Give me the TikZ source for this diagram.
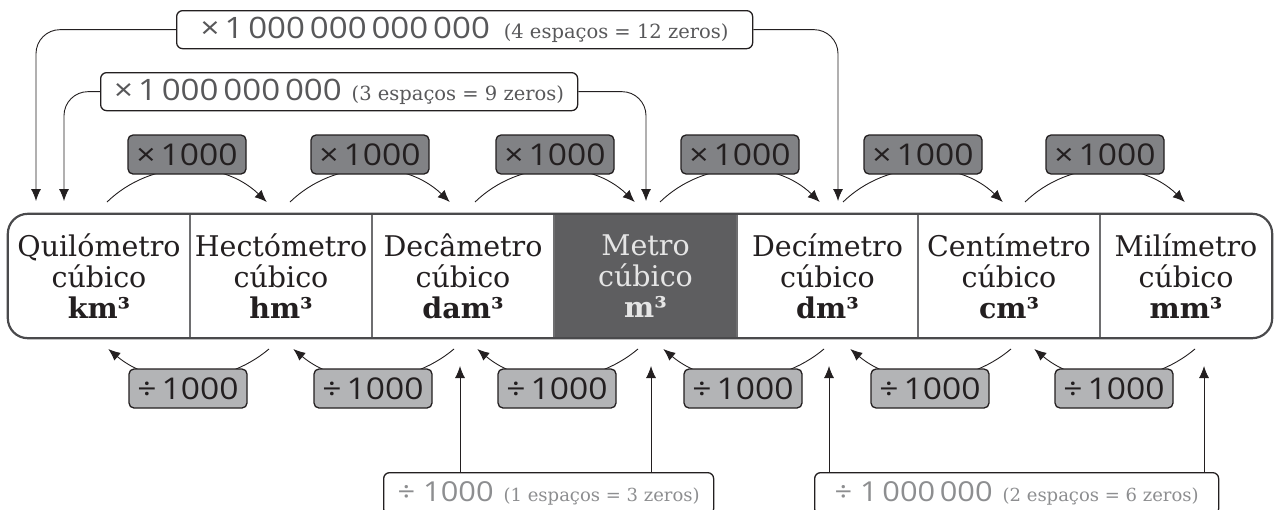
\documentclass[tikz,border=0pt]{standalone}
\usepackage{fontspec}
\setmainfont{DejaVu Serif}
\newfontfamily\numfont[FakeStretch=1.12]{Open Sans}
\usetikzlibrary{arrows.meta}

\definecolor{boxdark}{HTML}{818285}
\definecolor{boxlight}{HTML}{B3B4B6}
\definecolor{metro}{HTML}{5E5E60}
\definecolor{txtdark}{HTML}{58585A}
\definecolor{txtlight}{HTML}{8D8E90}
\definecolor{ink}{HTML}{231F20}
\definecolor{rim}{HTML}{4A4A4C}

\tikzset{
  mulbox/.style={draw=ink, line width=1.3pt, fill=boxdark, rounded corners=5pt,
    minimum width=118pt, minimum height=39pt, inner sep=0pt, text=ink,
    font=\numfont\fontsize{30}{30}\selectfont},
  divbox/.style={mulbox, fill=boxlight},
  bigbox/.style={draw=ink, line width=1.3pt, fill=white, rounded corners=6pt,
    minimum height=38pt, inner sep=0pt, anchor=north west},
  cell/.style={minimum height=124pt, inner sep=0pt, align=center, text=ink,
    font=\fontsize{28.5}{31}\selectfont},
  conn/.style={draw=ink, line width=0.9pt, -{Latex[length=12pt,width=10pt]}},
}
\newcommand{\bignum}{\numfont\fontsize{29.5}{29.5}\selectfont}
\newcommand{\lownum}{\numfont\fontsize{27.5}{27.5}\selectfont}
\newcommand{\note}{\fontsize{19.5}{19.5}\selectfont}
\newcommand{\lownote}{\fontsize{18}{18}\selectfont}

\begin{document}
\begin{tikzpicture}[x=1pt, y=1pt]
  \useasboundingbox (0,0) rectangle (1274,-509);

  % the units
  \node[cell, minimum width=182pt] (km) at (99,-276) {Quilómetro\\cúbico\\\textbf{km³}};
  \node[cell, minimum width=182pt] (hm) at (281,-276) {Hectómetro\\cúbico\\\textbf{hm³}};
  \node[cell, minimum width=182pt] (dam) at (463,-276) {Decâmetro\\cúbico\\\textbf{dam³}};
  \node[cell, minimum width=183pt, fill=metro, text=white!90!black] (m) at (645.5,-276) {Metro\\cúbico\\\textbf{m³}};
  \node[cell, minimum width=181pt] (dm) at (827.5,-276) {Decímetro\\cúbico\\\textbf{dm³}};
  \node[cell, minimum width=182pt] (cm) at (1009,-276) {Centímetro\\cúbico\\\textbf{cm³}};
  \node[cell, minimum width=172pt] (mm) at (1186,-276) {Milímetro\\cúbico\\\textbf{mm³}};

  \foreach \u in {km, hm, dam, m, dm, cm}
    \draw[rim!80, line width=1.5pt] (\u.north east) -- (\u.south east);
  \draw[rim, line width=2.2pt, rounded corners=20pt] (km.north west) rectangle (mm.south east);

  % x 1000 steps
  \foreach \x [count=\i] in {187,370,555,740,923,1105} {
    \coordinate (ua\i) at (\x-80,-202);
    \draw[conn] (ua\i) arc[start angle=134, end angle=46, radius=115];
    \node[mulbox] (mul\i) at (\x,-154.5) {×\,1000};
  }

  % : 1000 steps
  \foreach \x [count=\i] in {188,373,557,743,930,1114} {
    \coordinate (da\i) at (\x+81,-349);
    \draw[conn] (da\i) arc[start angle=-50, end angle=-130, radius=125];
    \node[divbox] (div\i) at (\x,-388.5) {÷\,1000};
  }

  % long jumps on top
  \node[bigbox, minimum width=576pt, text=txtdark] (tera) at (176,-10)
    {{\bignum ×\,1\,000\,000\,000\,000}\hspace{14pt}{\note(4 espaços = 12 zeros)}};
  \node[bigbox, minimum width=477pt, text=txtdark] (giga) at (100,-72)
    {{\bignum ×\,1\,000\,000\,000}\hspace{10pt}{\note(3 espaços = 9 zeros)}};

  \coordinate (km-a) at (36,-201);
  \coordinate (km-b) at (64,-201);
  \coordinate (m-a) at (646,-201);
  \coordinate (dm-a) at (838,-201);
  \draw[conn, rounded corners=24pt] (tera.west) -| (km-a);
  \draw[conn, rounded corners=24pt] (tera.east) -| (dm-a);
  \draw[conn, rounded corners=24pt] (giga.west) -| (km-b);
  \draw[conn, rounded corners=24pt] (giga.east) -| (m-a);

  % long jumps below
  \node[bigbox, minimum width=330pt, minimum height=42pt, text=txtlight] (kilo) at (383,-472)
    {{\lownum ÷ 1000}\hspace{10pt}{\lownote(1 espaços = 3 zeros)}};
  \node[bigbox, minimum width=404pt, minimum height=42pt, text=txtlight] (mega) at (814,-472)
    {{\lownum ÷ 1\,000\,000}\hspace{10pt}{\lownote(2 espaços = 6 zeros)}};

  \coordinate (dam-a) at (460,-366);
  \coordinate (m-b) at (651,-366);
  \coordinate (dm-b) at (829,-366);
  \coordinate (mm-a) at (1204,-366);
  \draw[conn] (kilo.north -| dam-a) -- (dam-a);
  \draw[conn] (kilo.north -| m-b) -- (m-b);
  \draw[conn] (mega.north -| dm-b) -- (dm-b);
  \draw[conn] (mega.north -| mm-a) -- (mm-a);
\end{tikzpicture}
\end{document}
